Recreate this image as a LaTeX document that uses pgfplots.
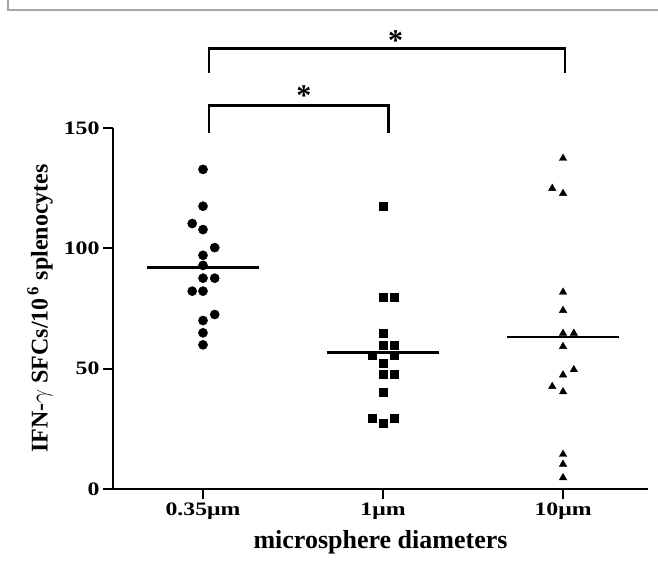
\documentclass[border=0pt]{standalone}
\usepackage{pgfplots}
\pgfplotsset{compat=1.18}
\usepackage{fontspec}
\setmainfont{Liberation Serif}
\newfontfamily\tickfont{Liberation Serif Bold}[FakeStretch=1.25]

\begin{document}
\begin{tikzpicture}
\useasboundingbox (0,0) rectangle (658pt,565pt);
% grey frame of the original figure (top and left edges visible)
\draw[gray!70, line width=1.2pt] (8pt,565pt) -- (8pt,555pt) -- (658pt,555pt);

\begin{axis}[
    at={(113pt,76pt)}, anchor=south west,
    scale only axis,
    width=535pt, height=361pt,
    xmin=0.5, xmax=3.472,
    ymin=0, ymax=150,
    clip=false,
    axis x line=bottom, axis y line=left,
    axis line style={-, line width=1.8pt},
    xtick={1,2,3},
    xticklabels={0.35μm,1μm,10μm},
    ytick={0,50,100,150},
    tick align=outside,
    major tick length=10pt,
    tick style={line width=1.8pt, black},
    /pgf/number format/assume math mode=true,
    ticklabel style={font=\tickfont\fontsize{19}{21}\selectfont},
    xlabel={microsphere diameters},
    ylabel={IFN-$\gamma$ SFCs/10\textsuperscript{\,6} splenocytes},
    xlabel style={font=\fontsize{26}{28}\selectfont\bfseries,
        at={(axis description cs:0.5,0)}, anchor=base, yshift=-59pt},
    ylabel style={font=\fontsize{24}{26}\selectfont\bfseries,
        at={(axis description cs:-0.1364,0.5)}, anchor=center},
]

% 0.35 um group
\addplot[only marks, mark=*, mark size=4.6pt, black] coordinates {
    (1,132.8) (1,117.5) (0.94,110.3) (1,107.8) (1.065,100.3)
    (1,97.1) (1,92.9) (1,87.6) (1.065,87.6) (0.94,82.2)
    (1,82.2) (1.065,72.5) (1,70.0) (1,64.9) (1,59.9)
};

% 1 um group
\addplot[only marks, mark=square*, mark size=4pt, black] coordinates {
    (2,117.6) (2,79.7) (2.06,79.7) (2,64.9) (2,59.9)
    (2.06,59.9) (1.94,55.4) (2.06,55.4) (2,52.2) (2,47.5)
    (2.06,47.5) (2,40.1) (1.94,29.4) (2.06,29.4) (2,27.4)
};

% 10 um group
\addplot[only marks, mark=triangle*, mark size=4.3pt, black] coordinates {
    (3,137.4) (2.94,124.9) (3,122.8) (3,81.8) (3,74.2)
    (3,64.7) (3.06,64.7) (3,59.2) (3.06,49.6) (3,47.4)
    (2.94,42.6) (3,40.4) (3,14.4) (3,10.3) (3,4.7)
};

% group means
\addplot[black, line width=2.6pt] coordinates {(0.69,92) (1.31,92)};
\addplot[black, line width=2.6pt] coordinates {(1.69,56.8) (2.31,56.8)};
\addplot[black, line width=2.6pt] coordinates {(2.69,63.1) (3.31,63.1)};

% significance brackets
\draw[line width=2.6pt] (axis cs:1.033,173) -- (axis cs:1.033,183)
    -- (axis cs:3.01,183) -- (axis cs:3.01,173);
\draw[line width=2.6pt] (axis cs:1.033,148) -- (axis cs:1.033,159.3)
    -- (axis cs:2.03,159.3) -- (axis cs:2.03,148);
\node[font=\fontsize{30}{30}\selectfont\bfseries] at (axis cs:2.07,186.5) {*};
\node[font=\fontsize{30}{30}\selectfont\bfseries] at (axis cs:1.56,163.5) {*};
\end{axis}
\end{tikzpicture}
\end{document}
